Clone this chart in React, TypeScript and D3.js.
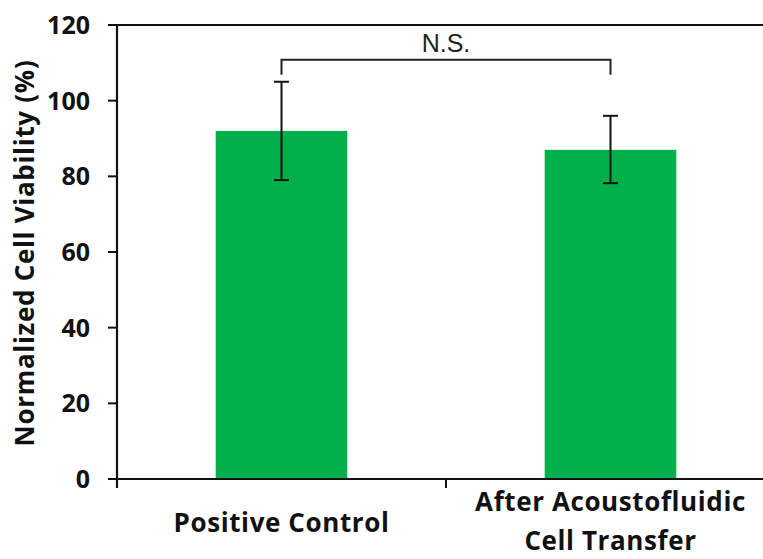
import React from "react";
import * as d3 from "d3";

const categories = ["Positive Control", "After Acoustofluidic Cell Transfer"];
const categoryLines = [["Positive Control"], ["After Acoustofluidic", "Cell Transfer"]];
const means = [92, 87];
const errLow = [79, 78.2];
const errHigh = [105, 96];
const yTicks = [0, 20, 40, 60, 80, 100, 120];
const sigLabel = "N.S.";
const sigLevel = 110.8;
const yTitle = "Normalized Cell Viability (%)";

const W = 763;
const H = 559;
const left = 117;
const right = 775;
const top = 25;
const bottom = 479;
const GREEN = "#00b04a";
const FONT = "'Open Sans', Lato, sans-serif";

export default function App() {
  const x = d3.scaleBand<string>().domain(categories).range([left, right]).paddingInner(0.6).paddingOuter(0.3);
  const y = d3.scaleLinear().domain([0, 120]).range([bottom, top]);
  const step = x.step();
  const bw = x.bandwidth();
  const cx = (c: string) => (x(c) as number) + bw / 2;
  const capW = 7.5;
  const sigY = y(sigLevel);
  const legBottom = sigY + 15;

  return (
    <svg width={W} height={H} style={{ position: "absolute", left: 0, top: 0, background: "#fff" }}>
      {/* bars */}
      {categories.map((c, i) => (
        <rect key={c} x={x(c)} y={y(means[i])} width={bw} height={y(0) - y(means[i])} fill={GREEN} />
      ))}
      {/* frame */}
      <line x1={left} x2={W + 20} y1={top} y2={top} stroke="#111" strokeWidth={2} />
      <line x1={left} x2={left} y1={top} y2={bottom + 9} stroke="#111" strokeWidth={2.2} />
      <line x1={left - 9} x2={W + 20} y1={bottom} y2={bottom} stroke="#111" strokeWidth={2.2} />
      {/* y ticks */}
      {yTicks.map((t) => (
        <g key={t}>
          <line x1={left - 9} x2={left} y1={y(t)} y2={y(t)} stroke="#111" strokeWidth={2} />
          <text x={90} y={y(t)} dy="0.36em" textAnchor="end" fontFamily={FONT} fontWeight={700} fontSize={25} fill="#111">
            {t}
          </text>
        </g>
      ))}
      {/* x category boundary ticks */}
      {categories.map((c, i) => (
        <line key={"b" + i} x1={left + step * (i + 1)} x2={left + step * (i + 1)} y1={bottom} y2={bottom + 9} stroke="#111" strokeWidth={2} />
      ))}
      {/* error bars */}
      {categories.map((c, i) => (
        <g key={"e" + c} stroke="#111" strokeWidth={2}>
          <line x1={cx(c)} x2={cx(c)} y1={y(errHigh[i])} y2={y(errLow[i])} />
          <line x1={cx(c) - capW} x2={cx(c) + capW} y1={y(errHigh[i])} y2={y(errHigh[i])} />
          <line x1={cx(c) - capW} x2={cx(c) + capW} y1={y(errLow[i])} y2={y(errLow[i])} />
        </g>
      ))}
      {/* significance bracket */}
      <path
        d={`M${cx(categories[0])},${legBottom}V${sigY}H${cx(categories[1])}V${legBottom}`}
        fill="none"
        stroke="#222"
        strokeWidth={2}
      />
      <text
        x={(cx(categories[0]) + cx(categories[1])) / 2}
        y={52}
        textAnchor="middle"
        fontFamily="'Liberation Sans', Arial, sans-serif"
        fontSize={25}
        fill="#222"
      >
        {sigLabel}
      </text>
      {/* category labels */}
      {categories.map((c, i) => {
        const lines = categoryLines[i];
        const base = lines.length === 1 ? 532 : 511;
        return (
          <text key={"l" + c} textAnchor="middle" fontFamily={FONT} fontWeight={700} fontSize={26} letterSpacing={0.6} fill="#111">
            {lines.map((ln, j) => (
              <tspan key={j} x={cx(c)} y={base + j * 39}>
                {ln}
              </tspan>
            ))}
          </text>
        );
      })}
      {/* y title */}
      <text
        transform={`translate(34,253) rotate(-90)`}
        textAnchor="middle"
        fontFamily={FONT}
        fontWeight={700}
        fontSize={26}
        letterSpacing={0.7}
        fill="#111"
      >
        {yTitle}
      </text>
    </svg>
  );
}
